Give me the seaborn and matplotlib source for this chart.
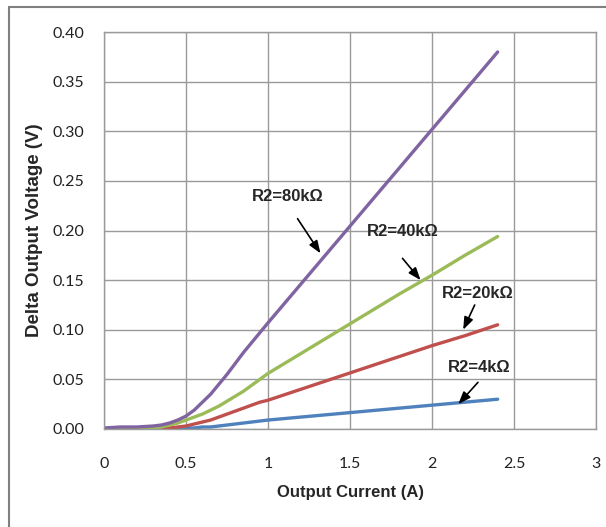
import numpy as np
import pandas as pd
import matplotlib
matplotlib.use("Agg")
import matplotlib.pyplot as plt
import seaborn as sns
from matplotlib.lines import Line2D

# data
current = [0, 0.1, 0.2, 0.3, 0.35, 0.4, 0.45, 0.5, 0.55, 0.6, 0.65, 0.7, 0.75, 0.8, 0.85,
           0.9, 0.95, 1.0, 1.2, 1.4, 1.6, 1.8, 2.0, 2.2, 2.4]
v_80k = [0.001, 0.002, 0.002, 0.003, 0.004, 0.006, 0.009, 0.013, 0.019, 0.027, 0.035,
         0.045, 0.055, 0.066, 0.077, 0.087, 0.097, 0.107,
         0.146, 0.185, 0.224, 0.263, 0.302, 0.341, 0.380]
v_40k = [0.000, 0.000, 0.000, 0.001, 0.002, 0.004, 0.006, 0.009, 0.012, 0.015, 0.019,
         0.023, 0.028, 0.033, 0.038, 0.044, 0.050, 0.056,
         0.076, 0.096, 0.116, 0.136, 0.155, 0.175, 0.194]
v_20k = [0.000, 0.000, 0.000, 0.000, 0.000, 0.001, 0.002, 0.003, 0.005, 0.007, 0.009,
         0.012, 0.015, 0.018, 0.021, 0.024, 0.027, 0.029,
         0.040, 0.051, 0.062, 0.073, 0.084, 0.094, 0.105]
v_4k = [0.000, 0.000, 0.000, 0.000, 0.000, 0.000, 0.000, 0.001, 0.001, 0.002, 0.002,
        0.003, 0.004, 0.005, 0.006, 0.007, 0.008, 0.009,
        0.012, 0.015, 0.018, 0.021, 0.024, 0.027, 0.030]

series = ["R2=4kΩ", "R2=20kΩ", "R2=40kΩ", "R2=80kΩ"]
colors = ["#4F81BD", "#C0504D", "#9BBB59", "#8064A2"]

# label text pos, arrow start, arrow end
label_pos = [(2.29, 0.062), (2.28, 0.137), (1.82, 0.199), (1.12, 0.234)]
arrow_from = [(2.28, 0.047), (2.26, 0.125), (1.82, 0.172), (1.18, 0.212)]
arrow_to = [(2.16, 0.025), (2.19, 0.100), (1.93, 0.150), (1.32, 0.177)]

x_ticks = [0, 0.5, 1, 1.5, 2, 2.5, 3]
y_ticks = [0.00, 0.05, 0.10, 0.15, 0.20, 0.25, 0.30, 0.35, 0.40]

df = pd.DataFrame({"current": current * 4,
                   "dv": v_4k + v_20k + v_40k + v_80k,
                   "R2": np.repeat(series, len(current))})

sns.set_style("white")
plt.rcParams["font.family"] = ["Liberation Sans", "DejaVu Sans"]

fig = plt.figure(figsize=(6.06, 5.27), dpi=100)
ax = fig.add_axes([0.1716, 0.186, 0.812, 0.753])

sns.lineplot(data=df, x="current", y="dv", hue="R2", hue_order=series,
             palette=colors, linewidth=2.4, legend=False, ax=ax)

for lab, p, a0, a1 in zip(series, label_pos, arrow_from, arrow_to):
    ax.text(p[0], p[1], lab, ha="center", va="center", fontsize=12, fontweight="bold")
    ax.annotate("", xy=a1, xytext=a0,
                arrowprops=dict(arrowstyle="-|>,head_length=0.75,head_width=0.28",
                                color="black", lw=1.2, shrinkA=0, shrinkB=0))

ax.set_xlim(0, 3)
ax.set_ylim(0, 0.4)
ax.set_xticks(x_ticks)
ax.set_xticklabels([f"{t:g}" for t in x_ticks], family=["Lato", "DejaVu Sans"])
ax.set_yticks(y_ticks)
ax.set_yticklabels([f"{t:.2f}" for t in y_ticks], family=["Lato", "DejaVu Sans"])
ax.tick_params(axis="both", length=0, labelsize=11.5, colors="#222222")
ax.tick_params(axis="x", pad=20)
ax.tick_params(axis="y", pad=14)
ax.grid(True, color="#9a9a9a", linewidth=1)
for s in ax.spines.values():
    s.set_color("#9a9a9a")
    s.set_linewidth(1)

ax.set_xlabel("Output Current (A)", fontsize=12, fontweight="bold", labelpad=10)
ax.set_ylabel("Delta Output Voltage (V)", fontsize=13.5, fontweight="bold", labelpad=7)

# outer chart frame (only top and left are visible)
fig.add_artist(Line2D([9 / 606, 1], [1 - 7 / 527, 1 - 7 / 527], color="#808080", lw=1.5))
fig.add_artist(Line2D([9 / 606, 9 / 606], [0, 1 - 7 / 527], color="#808080", lw=1.5))

fig.savefig("out.png", dpi=100)
